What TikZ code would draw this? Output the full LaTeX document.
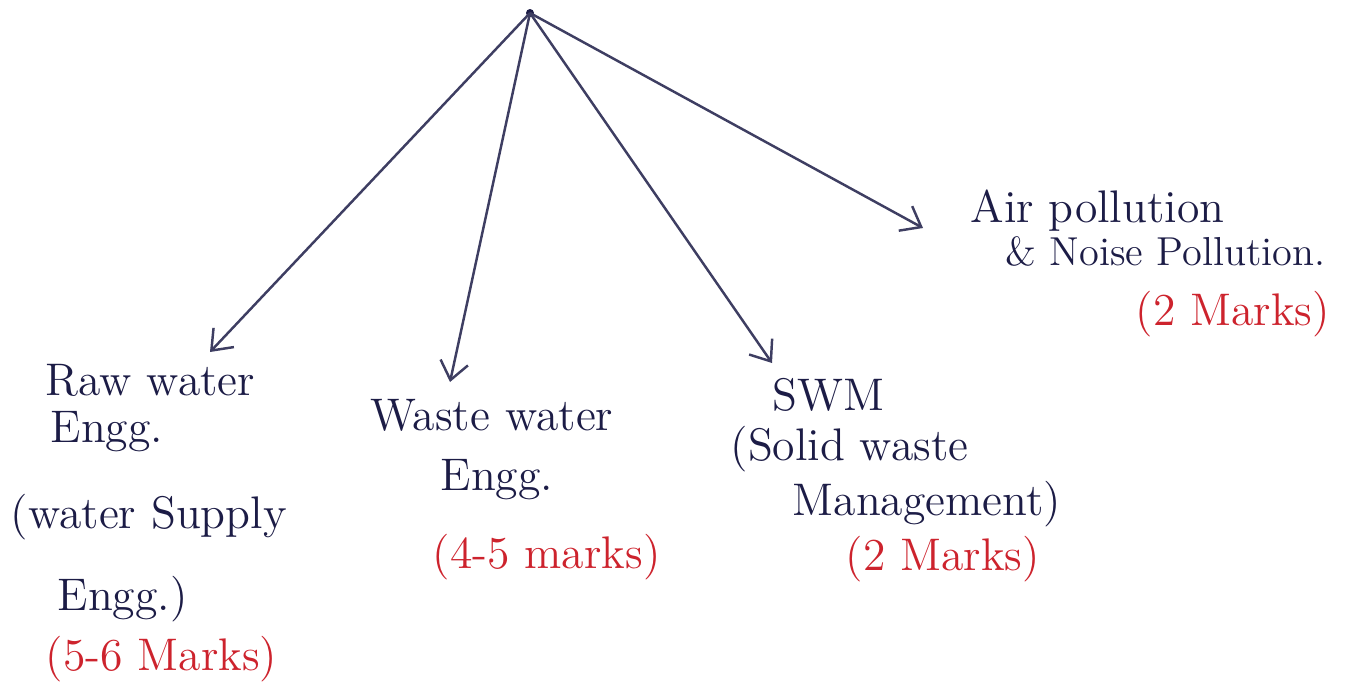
\documentclass[tikz,border=0pt]{standalone}
\usepackage{xcolor}
\usepackage{tikz}
\usetikzlibrary{arrows.meta}
\definecolor{ink}{RGB}{28,28,70}
\definecolor{marksred}{RGB}{205,35,45}

\begin{document}
\begin{tikzpicture}[x=1cm,y=1cm,
	txt/.style={anchor=base west, inner sep=0pt, text=ink, font=\fontsize{13}{15}\selectfont},
	marks/.style={txt, text=marksred},
	branch/.style={draw=ink!85, line width=0.7pt, -{Straight Barb[length=1.8mm,width=2.8mm]}}]
			\useasboundingbox (0,0) rectangle (13.54,6.86);
			\coordinate (top) at (5.30,6.73);
			\fill[ink] (top) circle (0.4mm);
			
			\foreach \x/\a/\b in
			{rawtip/2.10/3.34, wastetip/4.50/3.04, swmtip/7.72/3.23, airtip/9.23/4.58}{
				\coordinate (\x) at (\a,\b);
				\draw[branch] (top) -- (\x);
			}
			
			\foreach \n/\a/\b/\t in
			{raw1/0.45/2.91/Raw water, raw2/0.50/2.44/Engg., raw3/0.10/1.58/(water Supply, raw4/0.57/0.76/Engg.),
			 waste1/3.70/2.56/Waste water, waste2/4.40/1.96/Engg.,
			 swm1/7.72/2.76/SWM, swm2/7.30/2.26/(Solid waste, swm3/7.92/1.71/Management),
			 air1/9.70/4.64/Air pollution}{
				\node[txt] (\n) at (\a,\b) {\t};
			}
			\node[txt, font=\fontsize{11.5}{14}\selectfont] (air2) at (10.05,4.21) {\& Noise Pollution.};
			
			\foreach \n/\a/\b/\t in
			{rawmarks/0.45/0.16/(5-6 Marks), wastemarks/4.32/1.18/(4-5 marks),
			 swmmarks/8.45/1.16/(2 Marks), airmarks/11.35/3.61/(2 Marks)}{
				\node[marks] (\n) at (\a,\b) {\t};
			}
		\end{tikzpicture}
\end{document}
